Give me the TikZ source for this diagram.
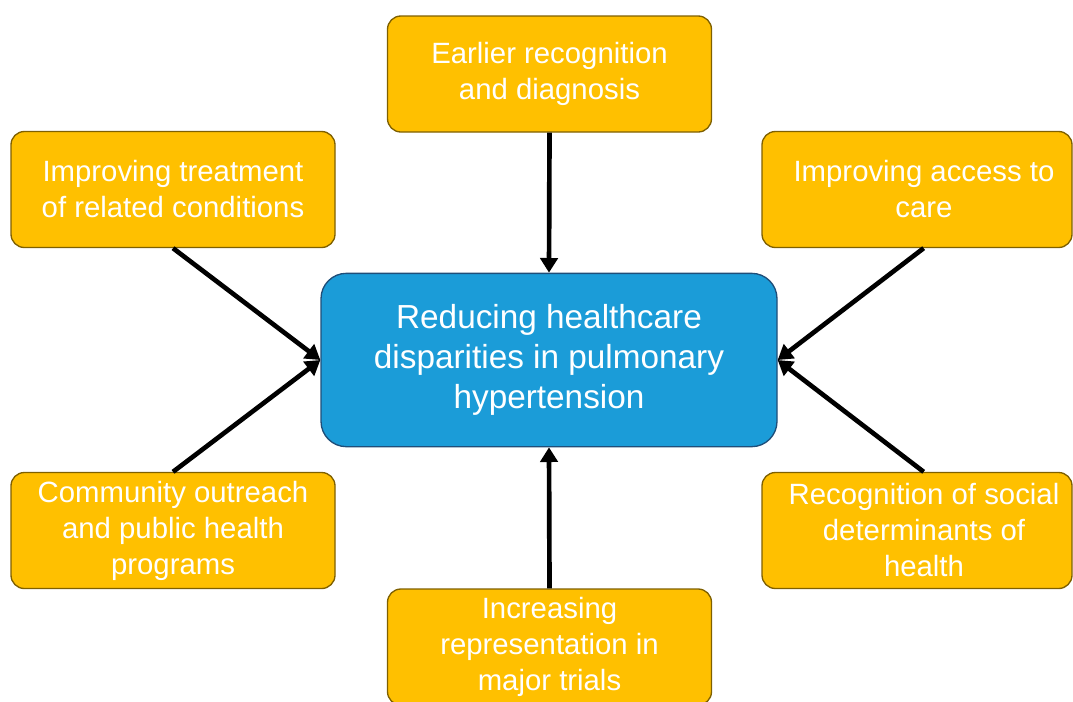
\documentclass[tikz,border=0pt]{standalone}
\usepackage{fontspec}
\setmainfont{Liberation Sans}
\usetikzlibrary{arrows.meta}

\definecolor{gold}{HTML}{FFC000}
\definecolor{goldedge}{HTML}{7F6000}
\definecolor{sky}{HTML}{1B9CD8}
\definecolor{skyedge}{HTML}{1F4E79}

\tikzset{
    factor/.style={draw=goldedge, fill=gold, line width=1pt, rounded corners=10pt,
        minimum width=243pt, minimum height=87pt, align=center, text=white,
        font=\fontsize{22}{27}\selectfont},
    goal/.style={draw=skyedge, fill=sky, line width=1pt, rounded corners=19pt,
        minimum width=342pt, minimum height=130pt, align=center, text=white,
        font=\fontsize{25}{30}\selectfont},
    push/.style={line width=3.5pt, -{Triangle[length=11pt,width=13pt]}},
}

\begin{document}
\begin{tikzpicture}[x=0.75pt, y=-0.75pt]
    \useasboundingbox (0,0) rectangle (1073,701);
    \clip (0,0) rectangle (1073,701);

    % centre
    \node[goal] (goal) at (549,360) {Reducing healthcare\\disparities in pulmonary\\hypertension};

    % surrounding factors
    \node[factor] (early) at (549.5,74) {Earlier recognition\\and diagnosis};
    \node[factor] (treat) at (173,189.5) {Improving treatment\\of related conditions};
    \node[factor, minimum width=232.5pt] (access) at (917,189.5)
        {\hspace*{10.5pt}Improving access to\\\hspace*{10.5pt}care};
    \node[factor] (outreach) at (173,530.5) {Community outreach\\and public health\\programs};
    \node[factor, minimum width=232.5pt] (social) at (917,530.5)
        {\hspace*{10.5pt}Recognition of social\\\hspace*{10.5pt}determinants of\\\hspace*{10.5pt}health};
    \node[factor] (trials) at (549.5,647) {Increasing\\representation in\\major trials};

    % arrows into the centre
    \draw[push] (early.south) -- (goal.north);
    \draw[push] (trials.north) -- (goal.south);
    \draw[push] (treat.south) -- (goal.west);
    \draw[push] (outreach.north) -- (goal.west);
    \draw[push] ([xshift=5pt]access.south) -- (goal.east);
    \draw[push] ([xshift=5pt]social.north) -- (goal.east);
\end{tikzpicture}
\end{document}
